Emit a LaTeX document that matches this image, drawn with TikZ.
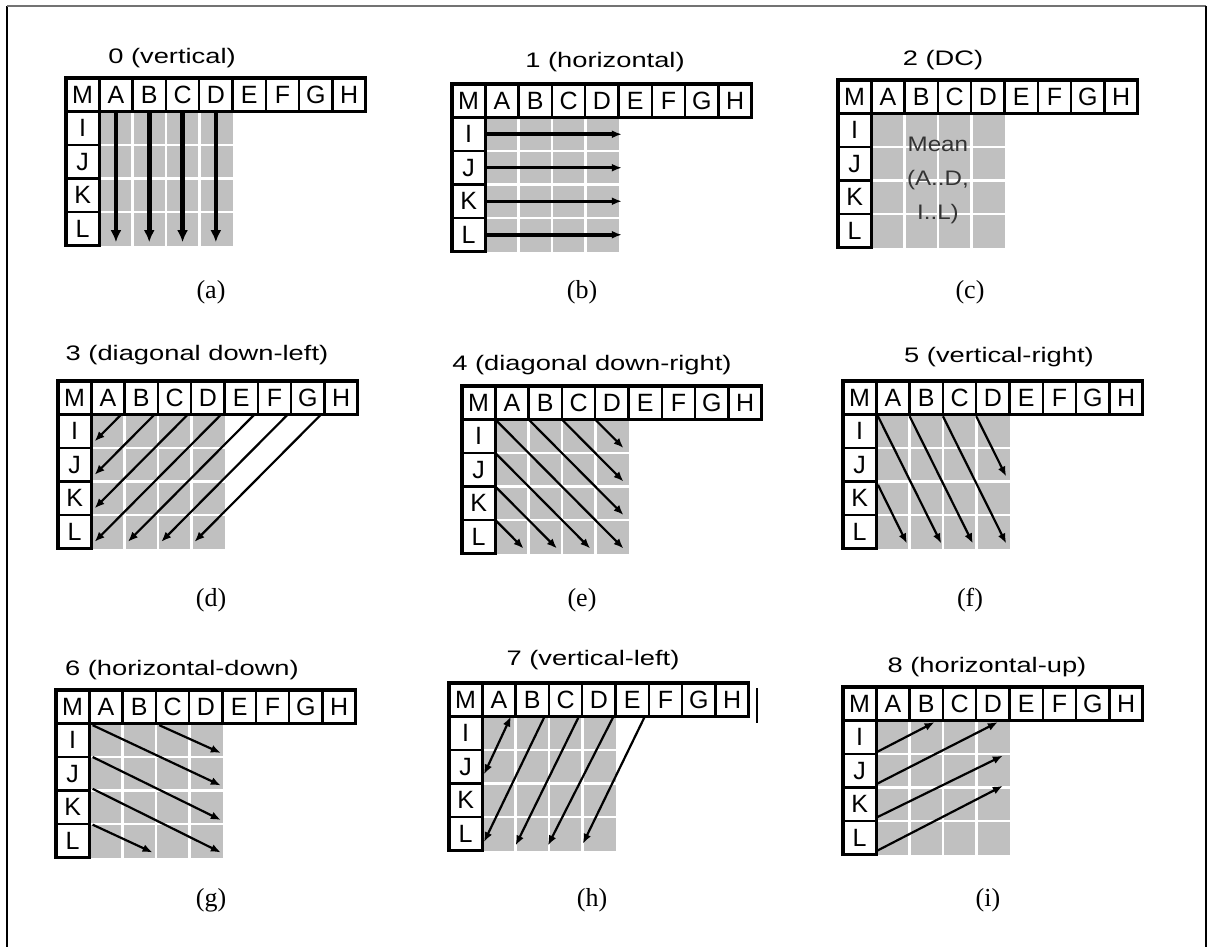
\documentclass[tikz,border=0pt]{standalone}
\usepackage{fontspec}
\setmainfont{Liberation Serif}
\setsansfont{Liberation Sans}
\usetikzlibrary{arrows.meta}
\definecolor{cellgray}{RGB}{192,192,192}
\tikzset{
  >={Latex[length=10pt,width=8pt]},
  panel/.style={x=33.3pt, y=-33.5pt},
  cell/.style={draw, line width=2.4pt, fill=white, minimum width=33.3pt, minimum height=33.5pt,
    inner sep=0pt, font=\sffamily\fontsize{25}{25}\selectfont},
  mode/.style={font=\sffamily\fontsize{21}{21}\selectfont, xscale=1.3},
  subcap/.style={font=\fontsize{26}{26}\selectfont},
  pred/.style={->, line width=2.2pt},
  predthick/.style={->, line width=4.5pt, >={Latex[length=12pt,width=11pt]}},
}
% one 4x4 block with its neighbours M, A..H and I..L
\newcommand{\predgrid}[1]{%
  \fill[cellgray] (1,1) rectangle (5,5);
  \foreach \k in {2,3,4} {
    \draw[white, line width=2.6pt] (\k,1) -- (\k,5);
    \draw[white, line width=2.6pt] (1,\k) -- (5,\k);
  }
  \foreach \l [count=\c from 0] in {M,A,B,C,D,E,F,G,H}
    \node[cell] (#1-\l) at (\c+0.5,0.5) {\l};
  \foreach \l [count=\r from 1] in {I,J,K,L}
    \node[cell] (#1-\l) at (0.5,\r+0.5) {\l};
  \draw[line width=3.5pt] (0,0) rectangle (9,1) (0,1) rectangle (1,5);
}

\begin{document}
\begin{tikzpicture}[x=1pt, y=-1pt]
  \useasboundingbox (0,0) rectangle (1208,947);
  % frame
  \draw[line width=1.5pt] (7,947) -- (7,6);
  \draw[line width=1.5pt, black!55] (7,6) -- (1206,6);
  \draw[line width=1.5pt] (1206,6) -- (1206,947);

  % Mode 0
  \begin{scope}[shift={(66,78)}, panel]
    \predgrid{a}
    \foreach \c in {1.5,2.5,3.5,4.5}
      \draw[predthick] (\c,1.05) -- (\c,4.9);
  \end{scope}
  % Mode 1
  \begin{scope}[shift={(452,84)}, panel]
    \predgrid{b}
    \foreach \r in {1.5,2.5,3.5,4.5}
      \draw[pred, line width=3.5pt] (1.05,\r) -- (5.1,\r);
  \end{scope}
  % Mode 2
  \begin{scope}[shift={(838,80)}, panel]
    \predgrid{c}
    \node[font=\sffamily\fontsize{21}{34}\selectfont, xscale=1.15, text=black!80, align=center]
      (c-mean) at (3,3) {Mean\\(A..D,\\I..L)};
  \end{scope}
  % Mode 3
  \begin{scope}[shift={(58,381)}, panel]
    \predgrid{d}
    \foreach \sx/\sy/\ex/\ey in {1.9/1/1.1/1.8, 2.9/1/1.1/2.8, 3.9/1/1.1/3.8, 4.9/1/1.1/4.8,
                                 5.9/1/2.1/4.8, 6.9/1/3.1/4.8, 7.9/1/4.1/4.8}
      \draw[pred] (\sx,\sy) -- (\ex,\ey);
  \end{scope}
  % Mode 4
  \begin{scope}[shift={(462,386)}, panel]
    \predgrid{e}
    \foreach \sx/\sy/\ex/\ey in {1.05/1.05/4.85/4.85, 2/1/4.85/3.85, 3/1/4.85/2.85, 4/1/4.85/1.85,
                                 1/2/3.85/4.85, 1/3/2.85/4.85, 1/4/1.85/4.85}
      \draw[pred] (\sx,\sy) -- (\ex,\ey);
  \end{scope}
  % Mode 5
  \begin{scope}[shift={(843,381)}, panel]
    \predgrid{f}
    \foreach \sx/\sy/\ex/\ey in {1.05/1.05/2.95/4.85, 2/1.05/3.9/4.85, 3/1.05/4.9/4.85,
                                 4/1.05/4.9/2.85, 1.05/3.1/1.92/4.85}
      \draw[pred] (\sx,\sy) -- (\ex,\ey);
  \end{scope}
  % Mode 6
  \begin{scope}[shift={(56,690)}, panel]
    \predgrid{g}
    \foreach \sx/\sy/\ex/\ey in {1.1/1.05/4.95/2.85, 3.1/1.05/4.95/1.88, 1.1/2/4.95/3.88,
                                 1.1/2.95/4.95/4.85, 1.1/4.02/2.9/4.85}
      \draw[pred] (\sx,\sy) -- (\ex,\ey);
  \end{scope}
  % Mode 7
  \begin{scope}[shift={(449,683)}, panel]
    \predgrid{h}
    \draw[pred, <->] (1.86,1) -- (1.05,2.73);
    \foreach \sx/\sy/\ex/\ey in {2.87/1/1.05/4.75, 3.9/1/2/4.85, 4.94/1/2.97/4.85, 5.88/1/4.02/4.8}
      \draw[pred] (\sx,\sy) -- (\ex,\ey);
    \draw[line width=2pt] (9.25,0.15) -- (9.25,1.2);
  \end{scope}
  % Mode 8
  \begin{scope}[shift={(843,687)}, panel]
    \predgrid{i}
    \foreach \sx/\sy/\ex/\ey in {1/1.95/2.75/1.05, 1/2.9/4.65/1.05, 1/3.9/4.8/2.05, 1/4.9/4.8/2.95}
      \draw[pred] (\sx,\sy) -- (\ex,\ey);
  \end{scope}

  % mode names
  \node[mode] (a-title) at (172,58)  {0 (vertical)};
  \node[mode] (b-title) at (605,62)  {1 (horizontal)};
  \node[mode] (c-title) at (943,60)  {2 (DC)};
  \node[mode] (d-title) at (197,355) {3 (diagonal down-left)};
  \node[mode] (e-title) at (592,365) {4 (diagonal down-right)};
  \node[mode] (f-title) at (999,357) {5 (vertical-right)};
  \node[mode] (g-title) at (182,670) {6 (horizontal-down)};
  \node[mode] (h-title) at (593,660) {7 (vertical-left)};
  \node[mode] (i-title) at (987,667) {8 (horizontal-up)};
  % sub-captions
  \node[subcap] (a-cap) at (211,292) {(a)};
  \node[subcap] (b-cap) at (582,292) {(b)};
  \node[subcap] (c-cap) at (970,292) {(c)};
  \node[subcap] (d-cap) at (211,600) {(d)};
  \node[subcap] (e-cap) at (582,600) {(e)};
  \node[subcap] (f-cap) at (970,600) {(f)};
  \node[subcap] (g-cap) at (211,900) {(g)};
  \node[subcap] (h-cap) at (592,900) {(h)};
  \node[subcap] (i-cap) at (988,900) {(i)};
\end{tikzpicture}
\end{document}
